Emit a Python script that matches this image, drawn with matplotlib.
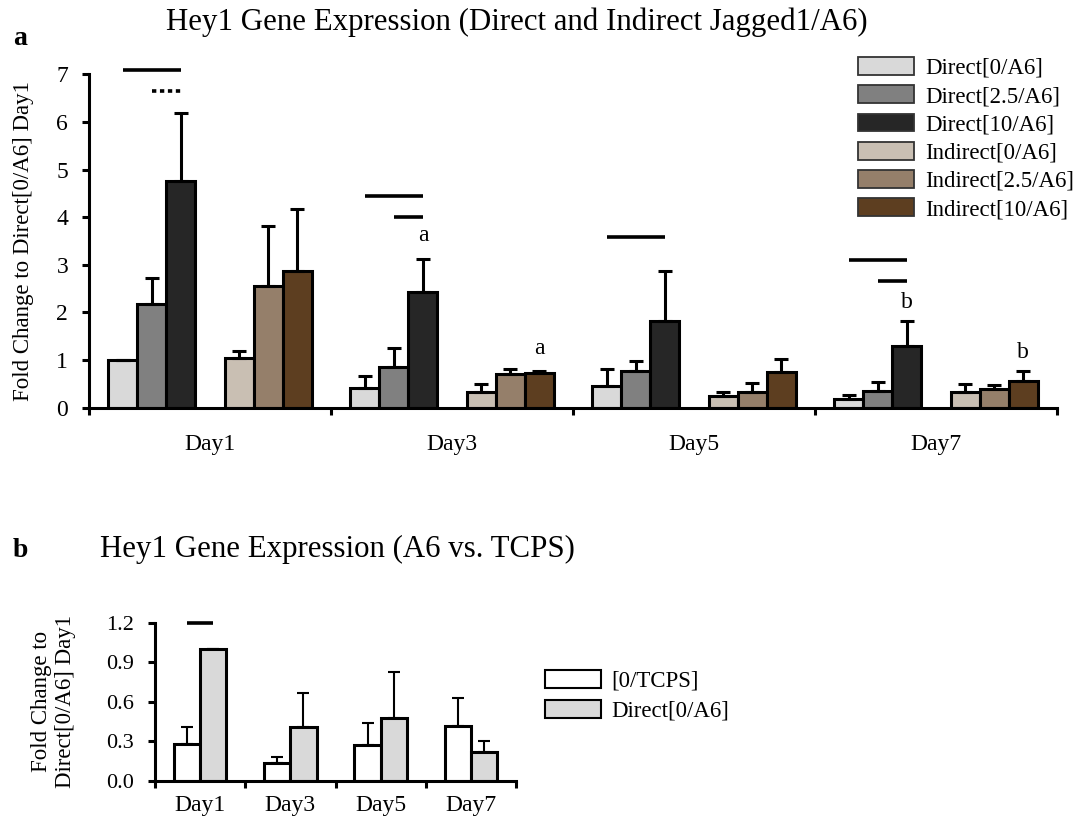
#%% Bibliotecas
import matplotlib.pyplot as plt
from matplotlib.patches import Patch
import numpy as np

plt.rcParams['font.family'] = ['Liberation Serif', 'DejaVu Serif']

#%% Dados painel a
days = ["Day1", "Day3", "Day5", "Day7"]
names_a = ["Direct[0/A6]", "Direct[2.5/A6]", "Direct[10/A6]",
           "Indirect[0/A6]", "Indirect[2.5/A6]", "Indirect[10/A6]"]
colors_a = ["#d9d9d9", "#808080", "#262626", "#c9bfb3", "#957f6a", "#5d3e20"]

direct_0 = [1.00, 0.41, 0.46, 0.18]
direct_0_err = [0.00, 0.25, 0.35, 0.09]
direct_25 = [2.17, 0.86, 0.77, 0.36]
direct_25_err = [0.56, 0.40, 0.22, 0.19]
direct_10 = [4.76, 2.42, 1.83, 1.29]
direct_10_err = [1.43, 0.71, 1.03, 0.53]
indirect_0 = [1.04, 0.34, 0.24, 0.33]
indirect_0_err = [0.14, 0.15, 0.08, 0.17]
indirect_25 = [2.56, 0.71, 0.34, 0.385]
indirect_25_err = [1.26, 0.10, 0.18, 0.095]
indirect_10 = [2.88, 0.72, 0.75, 0.56]
indirect_10_err = [1.29, 0.06, 0.28, 0.21]

series_a = [direct_0, direct_25, direct_10, indirect_0, indirect_25, indirect_10]
errors_a = [direct_0_err, direct_25_err, direct_10_err, indirect_0_err, indirect_25_err, indirect_10_err]

# linhas de significancia: dia, barra inicial, barra final, altura
sig_day = [0, 0, 1, 1, 2, 3, 3]
sig_from = [0, 1, 0, 1, 0, 0, 1]
sig_to = [2, 2, 2, 2, 2, 2, 2]
sig_y = [7.08, 6.64, 4.44, 4.01, 3.59, 3.11, 2.66]
sig_dotted = [False, True, False, False, False, False, False]

letter_text = ["a", "a", "b", "b"]
letter_day = [1, 1, 3, 3]
letter_bar = [2, 5, 2, 5]
letter_y = [3.61, 1.25, 2.20, 1.15]

#%% Dados painel b
names_b = ["[0/TCPS]", "Direct[0/A6]"]
colors_b = ["white", "#d9d9d9"]
tcps = [0.28, 0.14, 0.27, 0.42]
tcps_err = [0.13, 0.04, 0.17, 0.21]
direct_b = [1.00, 0.41, 0.475, 0.22]
direct_b_err = [0.00, 0.26, 0.355, 0.08]

#%% Figura
W, H = 1084, 823
fig = plt.figure(figsize=(W / 100, H / 100), dpi=100)

def px_axes(x0, x1, y_top, y_bot):
    return fig.add_axes([x0 / W, 1 - y_bot / H, (x1 - x0) / W, (y_bot - y_top) / H])

def style_axis(ax, ymax, yticks, fmt, ysize, xpad):
    for s in ["top", "right"]:
        ax.spines[s].set_visible(False)
    for s in ["left", "bottom"]:
        ax.spines[s].set_linewidth(2.2)
    ax.set_xlim(0, 4)
    ax.set_ylim(0, ymax)
    ax.set_yticks(yticks)
    ax.set_yticklabels([fmt.format(t) for t in yticks])
    ax.set_xticks(range(5))
    ax.set_xticklabels([])
    ax.set_xticks(np.arange(4) + 0.5, minor=True)
    ax.set_xticklabels(days, minor=True)
    ax.tick_params(axis="both", which="major", length=5, width=2.2, labelsize=ysize, pad=10)
    ax.tick_params(axis="x", which="minor", length=0, labelsize=17, pad=xpad)

#%% Painel a
ax = px_axes(89, 1057, 74.3, 407.7)
pitch = 0.12
offsets = np.array([-3, -2, -1, 1, 2, 3]) * pitch
base = np.arange(4) + 0.5
for k in range(6):
    xs = base + offsets[k]
    ax.bar(xs, series_a[k], width=pitch, color=colors_a[k], edgecolor="black", linewidth=2.2, zorder=2)
    ax.errorbar(xs, series_a[k], yerr=[np.zeros(4), errors_a[k]], fmt="none", ecolor="black",
                elinewidth=2.2, capsize=4.7, capthick=2.2, zorder=3)

for d, b0, b1, y, dot in zip(sig_day, sig_from, sig_to, sig_y, sig_dotted):
    ls = (0, (1.2, 1.0)) if dot else "-"
    ax.plot([base[d] + offsets[b0], base[d] + offsets[b1]], [y, y], color="black", lw=2.6,
            linestyle=ls, solid_capstyle="butt", dash_capstyle="butt", clip_on=False)

for t, d, b, y in zip(letter_text, letter_day, letter_bar, letter_y):
    ax.text(base[d] + offsets[b], y, t, ha="center", va="center", fontsize=17)

style_axis(ax, 7, range(8), "{:d}", 17, 19)
ax.set_ylabel("Fold Change to Direct[0/A6] Day1", fontsize=16.5, labelpad=16)

handles_a = [Patch(facecolor=c, edgecolor="#333333", linewidth=1.3) for c in colors_a]
ax.legend(handles_a, names_a, loc="upper left", bbox_to_anchor=(858 / W, 1 - 57 / H),
          bbox_transform=fig.transFigure, frameon=False, fontsize=16.5, borderpad=0,
          borderaxespad=0, handlelength=2.45, handleheight=0.82, handletextpad=0.48,
          labelspacing=0.28)

fig.text(166 / W, 1 - 30 / H, "Hey1 Gene Expression (Direct and Indirect Jagged1/A6)",
         fontsize=22.2, ha="left", va="baseline")
fig.text(13 / W, 1 - 45 / H, "a", fontsize=20, fontweight="bold", ha="left", va="baseline")

#%% Painel b
bx = px_axes(155, 516, 622.7, 781)
wb = 0.29
xs_t = base - 0.145
xs_d = base + 0.145
bx.bar(xs_t, tcps, width=wb, color=colors_b[0], edgecolor="black", linewidth=2.2, zorder=2)
bx.bar(xs_d, direct_b, width=wb, color=colors_b[1], edgecolor="black", linewidth=2.2, zorder=2)
bx.errorbar(xs_t, tcps, yerr=[np.zeros(4), tcps_err], fmt="none", ecolor="black",
            elinewidth=1.5, capsize=4.5, capthick=1.5, zorder=3)
bx.errorbar(xs_d, direct_b, yerr=[np.zeros(4), direct_b_err], fmt="none", ecolor="black",
            elinewidth=1.5, capsize=4.5, capthick=1.5, zorder=3)
bx.plot([xs_t[0], xs_d[0]], [1.2, 1.2], color="black", lw=2.6, solid_capstyle="butt", clip_on=False)

style_axis(bx, 1.2, [0, 0.3, 0.6, 0.9, 1.2], "{:.1f}", 16, 10)
bx.set_ylabel("Fold Change to\nDirect[0/A6] Day1", fontsize=16.5, labelpad=22, linespacing=1.15)

handles_b = [Patch(facecolor=c, edgecolor="black", linewidth=1.5) for c in colors_b]
bx.legend(handles_b, names_b, loc="upper left", bbox_to_anchor=(545 / W, 1 - 670 / H),
          bbox_transform=fig.transFigure, frameon=False, fontsize=16.5, borderpad=0,
          borderaxespad=0, handlelength=2.45, handleheight=0.82, handletextpad=0.45,
          labelspacing=0.35)

fig.text(100 / W, 1 - 557 / H, "Hey1 Gene Expression (A6 vs. TCPS)",
         fontsize=22.2, ha="left", va="baseline")
fig.text(13 / W, 1 - 557 / H, "b", fontsize=20, fontweight="bold", ha="left", va="baseline")

fig.savefig("out.png", dpi=100)
